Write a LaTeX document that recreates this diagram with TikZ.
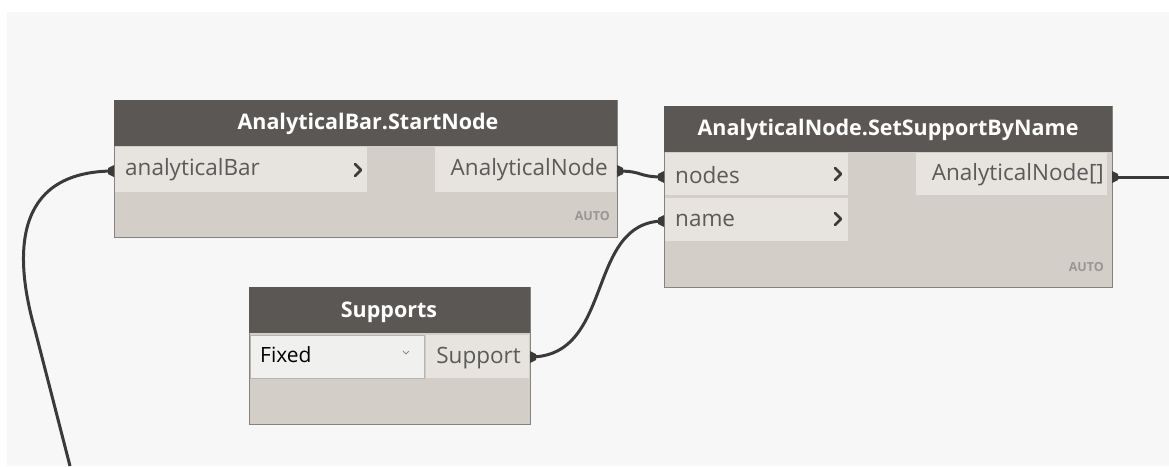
\documentclass[tikz,border=0pt]{standalone}
\usepackage{fontspec}
\setmainfont{Open Sans}
\begin{document}
\begin{tikzpicture}[x=1pt,y=-1pt,
  wire/.style={line width=3pt,draw=wirec},
  box/.style={draw=boxedge,line width=1.2pt,fill=bodyc,inner sep=0,anchor=north west},
  hdr/.style={fill=hdrc,inner sep=0,anchor=north west,text=white,font=\fontsize{21.5}{24}\selectfont\bfseries},
  port/.style={fill=rowc,inner sep=0,anchor=north west},
  plabel/.style={inner sep=0,text=labelc,font=\fontsize{22.5}{26}\selectfont},
  chevline/.style={draw=chevc,line width=2.6pt,line cap=round,line join=round},
  auto/.style={inner sep=0,anchor=east,text=autoc,font=\fontsize{12.5}{14}\selectfont\bfseries},
  tip/.style={fill=wirec,draw=none}]
\definecolor{bg}{HTML}{F7F7F7}
\definecolor{hdrc}{HTML}{5B5754}
\definecolor{bodyc}{HTML}{D3CEC8}
\definecolor{rowc}{HTML}{E7E3DE}
\definecolor{dropc}{HTML}{F0F0EF}
\definecolor{boxedge}{HTML}{86827E}
\definecolor{wirec}{HTML}{3C3A39}
\definecolor{labelc}{HTML}{5A5A5A}
\definecolor{chevc}{HTML}{3A3A3A}
\definecolor{autoc}{HTML}{9A9693}
\useasboundingbox (0,0) rectangle (1169,466);
\fill[white] (0,0) rectangle (1169,466);
\fill[bg] (7,12) rectangle (1169,466);

% AnalyticalBar.StartNode
\node[box,minimum width=503,minimum height=137] (sn) at (114,100) {};
\node[hdr,minimum width=503,minimum height=46] (snh) at (114,100) {};
\node[hdr,anchor=center] (snt) at (368,124) {AnalyticalBar.StartNode};
\node[port,minimum width=252,minimum height=45] (snin) at (115,147) {};
\node[port,minimum width=181,minimum height=45] (snout) at (435,147) {};
\node[plabel,anchor=west] (snl1) at (125,170) {analyticalBar};
\node[plabel,anchor=east] (snl2) at (608,170) {AnalyticalNode};
\node[auto] (sna) at (610,216) {AUTO};
\draw[chevline] (355,164) -- (361,170) -- (355,176);

% AnalyticalNode.SetSupportByName
\node[box,minimum width=448,minimum height=181] (ss) at (664,106) {};
\node[hdr,minimum width=448,minimum height=46] (ssh) at (664,106) {};
\node[hdr,anchor=center] (sst) at (888,130) {AnalyticalNode.SetSupportByName};
\node[port,minimum width=183,minimum height=42] (ssin1) at (665,153) {};
\node[port,minimum width=183,minimum height=43] (ssin2) at (665,198) {};
\node[port,minimum width=191,minimum height=42] (ssout) at (916,153) {};
\node[plabel,anchor=west] (ssl1) at (675,175) {nodes};
\node[plabel,anchor=west] (ssl2) at (675,220) {name};
\node[plabel,anchor=east] (ssl3) at (1104,175) {AnalyticalNode[]};
\node[auto] (ssa) at (1104,267) {AUTO};
\draw[chevline] (835,168) -- (841,174) -- (835,180);
\draw[chevline] (835,213) -- (841,219) -- (835,225);

% Supports
\node[box,minimum width=281,minimum height=137] (sp) at (249,287) {};
\node[hdr,minimum width=281,minimum height=46] (sph) at (249,287) {};
\node[hdr,anchor=center] (spt) at (389,312) {Supports};
\node[port,fill=dropc,draw=boxedge!60,line width=0.6pt,minimum width=174,minimum height=43] (spdd) at (250,335) {};
\node[port,minimum width=103,minimum height=43] (spout) at (426,335) {};
\node[plabel,anchor=west,text=black,font=\fontsize{21}{24}\selectfont] (spl1) at (260,355) {Fixed};
\node[plabel,anchor=east] (spl2) at (521,358) {Support};
\draw[draw=labelc!70,line width=1pt] (403,351) -- (406,354) -- (409,351);

% port anchors for the wires
\coordinate (pIn) at (114,171);
\coordinate (pOut1) at (617,171);
\coordinate (pNodes) at (664,177);
\coordinate (pName) at (664,221);
\coordinate (pSup) at (530,357);
\coordinate (pOut2) at (1112,177);
\coordinate (farA) at (70,466);
\coordinate (farB) at (1169,177);

% wires
\draw[wire] (pIn) .. controls (10,171) and (15,260) .. (35,330) -- (farA);
\draw[wire] (pOut1) .. controls (645,171) and (636,177) .. (pNodes);
\draw[wire] (pSup) .. controls (615,357) and (585,221) .. (pName);
\draw[wire] (pOut2) -- (farB);

% small port tabs
\fill[tip] (pIn) ++(0,-6) -- ++(-6,3) -- ++(0,6) -- ++(6,3) -- cycle;
\fill[tip] (pNodes) ++(0,-6) -- ++(-6,3) -- ++(0,6) -- ++(6,3) -- cycle;
\fill[tip] (pName) ++(0,-6) -- ++(-6,3) -- ++(0,6) -- ++(6,3) -- cycle;
\fill[tip] (pOut1) ++(0,-6) -- ++(6,3) -- ++(0,6) -- ++(-6,3) -- cycle;
\fill[tip] (pOut2) ++(0,-6) -- ++(6,3) -- ++(0,6) -- ++(-6,3) -- cycle;
\fill[tip] (pSup) ++(0,-6) -- ++(6,3) -- ++(0,6) -- ++(-6,3) -- cycle;
\end{tikzpicture}
\end{document}
